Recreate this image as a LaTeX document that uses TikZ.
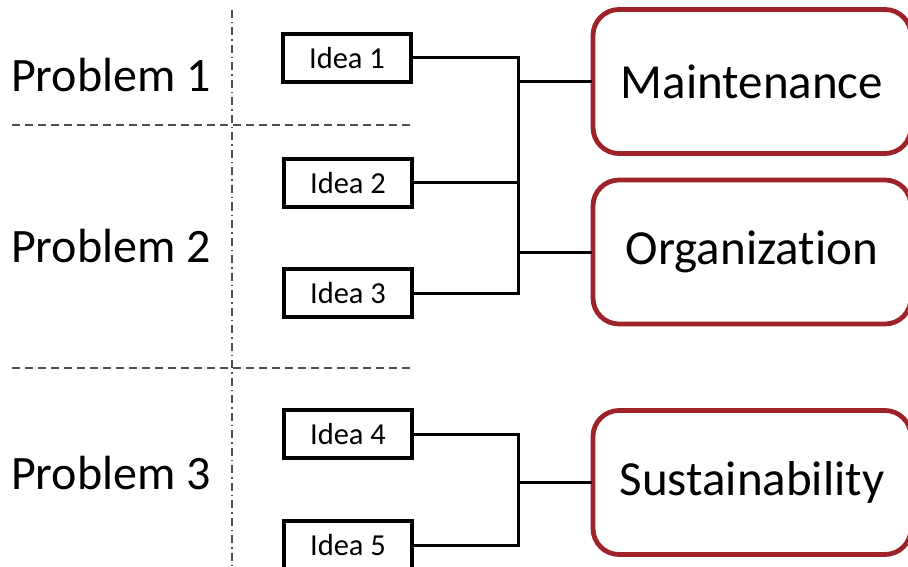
\documentclass[tikz,border=0pt]{standalone}
\usepackage{fontspec}
\setmainfont{Carlito}[Ligatures={NoCommon}]
\definecolor{boxred}{HTML}{9E2329}
\definecolor{guide}{HTML}{505050}
\begin{document}
\begin{tikzpicture}[x=1pt,y=-1pt,
  ideabox/.style={draw=black, line width=3.4pt, minimum width=128pt, minimum height=48pt,
    inner sep=0pt, font=\fontsize{30.5}{36}\selectfont},
  themebox/.style={draw=boxred, line width=4.8pt, rounded corners=26pt, fill=white,
    minimum width=318pt, minimum height=144pt, inner sep=0pt,
    font=\fontsize{49}{58}\selectfont},
  problem/.style={inner sep=0pt, font=\fontsize{48}{56}\selectfont},
  conn/.style={line width=3pt, line cap=rect},
  hguide/.style={guide, line width=1.4pt, dash pattern=on 8pt off 5pt},
  vguide/.style={guide, line width=1.4pt, dash pattern=on 8pt off 4pt on 1.5pt off 4pt}]
\useasboundingbox (0,0) rectangle (908,567);
\clip (0,0) rectangle (908,567);

% column and row separators
\draw[vguide] (232,10) -- (232,567);
\draw[hguide] (12,125) -- (413,125);
\draw[hguide] (12,368) -- (413,368);

% problem labels
\node[problem] (p1) at (111,75) {Problem 1};
\node[problem] (p2) at (111,246) {Problem 2};
\node[problem] (p3) at (111,473) {Problem 3};

% idea boxes
\node[ideabox] (i1) at (347,58) {Idea 1};
\node[ideabox] (i2) at (348,183) {Idea 2};
\node[ideabox] (i3) at (348,293) {Idea 3};
\node[ideabox] (i4) at (348,434) {Idea 4};
\node[ideabox] (i5) at (348,545) {Idea 5};

% theme boxes
\node[themebox] (m) at (752,81.5) {Maintenance};
\node[themebox] (o) at (752,252) {Organization};
\node[themebox] (s) at (752,482.5) {Sustainability};

% bracket connectors
\coordinate (bx) at (518,0);
\draw[conn] (i1.east) -| (bx |- i3.east) -- (i3.east);
\draw[conn] (i2.east) -- (i2.east -| bx);
\draw[conn] (m.west) -- (m.west -| bx);
\draw[conn] (o.west) -- (o.west -| bx);
\draw[conn] (i4.east) -| (bx |- i5.east) -- (i5.east);
\draw[conn] (s.west) -- (s.west -| bx);
\end{tikzpicture}
\end{document}
